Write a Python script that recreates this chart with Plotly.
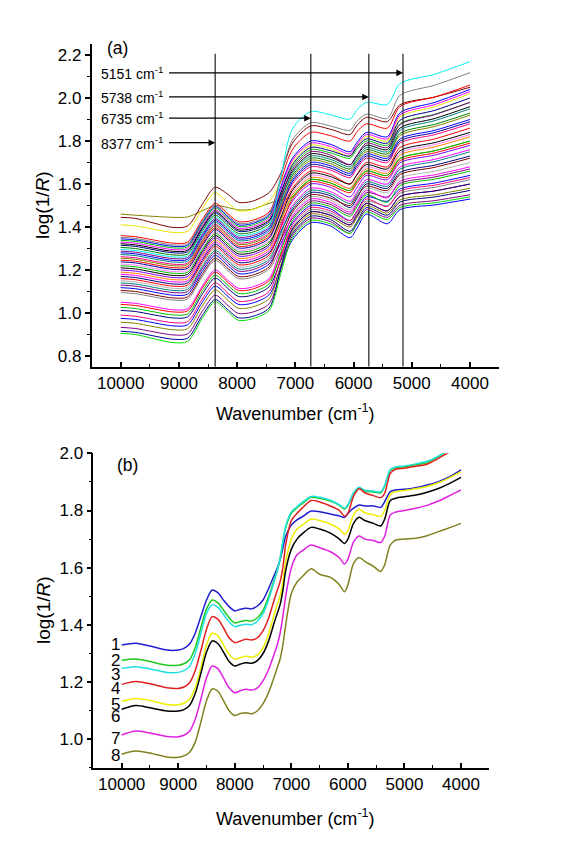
import plotly.graph_objects as go

# ---------------- data: panel (a) ----------------
wn_a = [10000, 9750, 9100, 8850, 8600, 8377, 8150, 7980, 7750, 7450, 7250,
        7050, 6735, 6400, 6060, 5950, 5780, 5420, 5200, 4600, 4000]

a01 = [1.460, 1.455, 1.445, 1.447, 1.475, 1.500, 1.490, 1.480, 1.482, 1.510, 1.525, 1.540, 1.620, 1.605, 1.570, 1.610, 1.660, 1.640, 1.719, 1.755, 1.800]
a02 = [1.445, 1.440, 1.398, 1.405, 1.505, 1.585, 1.550, 1.515, 1.519, 1.560, 1.650, 1.790, 1.870, 1.855, 1.830, 1.870, 1.910, 1.890, 1.969, 2.005, 2.050]
a03 = [1.410, 1.405, 1.375, 1.380, 1.485, 1.560, 1.510, 1.475, 1.480, 1.520, 1.610, 1.700, 1.780, 1.765, 1.730, 1.770, 1.820, 1.800, 1.912, 1.960, 2.020]
a04 = [1.360, 1.355, 1.325, 1.330, 1.435, 1.510, 1.460, 1.425, 1.430, 1.470, 1.615, 1.760, 1.840, 1.825, 1.800, 1.840, 1.880, 1.860, 1.961, 2.005, 2.060]
a05 = [1.352, 1.347, 1.317, 1.322, 1.427, 1.502, 1.452, 1.417, 1.422, 1.462, 1.634, 1.805, 1.885, 1.870, 1.850, 1.890, 1.925, 1.905, 2.013, 2.060, 2.118]
a06 = [1.345, 1.340, 1.310, 1.315, 1.420, 1.495, 1.445, 1.410, 1.415, 1.455, 1.588, 1.720, 1.800, 1.785, 1.750, 1.790, 1.840, 1.820, 1.932, 1.980, 2.040]
a07 = [1.338, 1.333, 1.303, 1.308, 1.413, 1.488, 1.438, 1.403, 1.408, 1.448, 1.564, 1.680, 1.760, 1.745, 1.720, 1.760, 1.800, 1.780, 1.881, 1.925, 1.980]
a08 = [1.330, 1.325, 1.295, 1.300, 1.405, 1.480, 1.430, 1.395, 1.400, 1.440, 1.575, 1.710, 1.790, 1.775, 1.740, 1.780, 1.830, 1.810, 1.922, 1.970, 2.030]
a09 = [1.322, 1.317, 1.287, 1.292, 1.397, 1.472, 1.422, 1.387, 1.392, 1.432, 1.546, 1.660, 1.740, 1.725, 1.690, 1.730, 1.780, 1.760, 1.861, 1.905, 1.960]
a10 = [1.315, 1.310, 1.280, 1.285, 1.390, 1.465, 1.415, 1.380, 1.385, 1.425, 1.558, 1.690, 1.770, 1.755, 1.730, 1.770, 1.810, 1.790, 1.897, 1.943, 2.000]
a11 = [1.305, 1.300, 1.270, 1.275, 1.380, 1.455, 1.405, 1.370, 1.375, 1.415, 1.528, 1.640, 1.720, 1.705, 1.670, 1.710, 1.760, 1.740, 1.836, 1.878, 1.930]
a12 = [1.296, 1.291, 1.261, 1.266, 1.371, 1.446, 1.396, 1.361, 1.366, 1.406, 1.632, 1.857, 1.937, 1.922, 1.902, 1.942, 1.980, 1.970, 2.067, 2.111, 2.169]
a13 = [1.288, 1.283, 1.253, 1.258, 1.363, 1.438, 1.388, 1.353, 1.358, 1.398, 1.534, 1.670, 1.750, 1.735, 1.690, 1.730, 1.790, 1.770, 1.877, 1.923, 1.980]
a14 = [1.280, 1.275, 1.245, 1.250, 1.355, 1.430, 1.380, 1.345, 1.350, 1.390, 1.505, 1.620, 1.700, 1.685, 1.650, 1.690, 1.740, 1.720, 1.810, 1.850, 1.900]
a15 = [1.272, 1.267, 1.237, 1.242, 1.347, 1.422, 1.372, 1.337, 1.342, 1.382, 1.516, 1.650, 1.730, 1.715, 1.680, 1.720, 1.770, 1.750, 1.851, 1.895, 1.950]
a16 = [1.262, 1.257, 1.227, 1.232, 1.337, 1.412, 1.362, 1.327, 1.332, 1.372, 1.486, 1.600, 1.680, 1.665, 1.630, 1.670, 1.720, 1.700, 1.790, 1.830, 1.880]
a17 = [1.255, 1.250, 1.220, 1.225, 1.330, 1.405, 1.355, 1.320, 1.325, 1.365, 1.498, 1.630, 1.710, 1.695, 1.660, 1.700, 1.750, 1.730, 1.826, 1.868, 1.920]
a18 = [1.246, 1.241, 1.211, 1.216, 1.321, 1.396, 1.346, 1.311, 1.316, 1.356, 1.468, 1.580, 1.660, 1.645, 1.600, 1.640, 1.700, 1.680, 1.770, 1.810, 1.860]
a19 = [1.238, 1.233, 1.203, 1.208, 1.313, 1.388, 1.338, 1.303, 1.308, 1.348, 1.479, 1.610, 1.690, 1.675, 1.640, 1.680, 1.730, 1.710, 1.800, 1.840, 1.890]
a20 = [1.228, 1.223, 1.193, 1.198, 1.303, 1.378, 1.328, 1.293, 1.298, 1.338, 1.449, 1.560, 1.640, 1.625, 1.580, 1.620, 1.680, 1.660, 1.745, 1.783, 1.830]
a21 = [1.220, 1.215, 1.185, 1.190, 1.295, 1.370, 1.320, 1.285, 1.290, 1.330, 1.435, 1.540, 1.620, 1.605, 1.570, 1.610, 1.660, 1.640, 1.719, 1.755, 1.800]
a22 = [1.210, 1.205, 1.175, 1.180, 1.285, 1.360, 1.310, 1.275, 1.280, 1.320, 1.445, 1.570, 1.650, 1.635, 1.600, 1.640, 1.690, 1.670, 1.755, 1.793, 1.840]
a23 = [1.200, 1.195, 1.165, 1.170, 1.275, 1.350, 1.300, 1.265, 1.270, 1.310, 1.415, 1.520, 1.600, 1.585, 1.540, 1.580, 1.640, 1.620, 1.699, 1.735, 1.780]
a24 = [1.190, 1.185, 1.155, 1.160, 1.265, 1.340, 1.290, 1.255, 1.260, 1.300, 1.425, 1.550, 1.630, 1.615, 1.580, 1.620, 1.670, 1.650, 1.735, 1.773, 1.820]
a25 = [1.180, 1.175, 1.145, 1.150, 1.255, 1.330, 1.280, 1.245, 1.250, 1.290, 1.395, 1.500, 1.580, 1.565, 1.520, 1.560, 1.620, 1.600, 1.679, 1.715, 1.760]
a26 = [1.170, 1.165, 1.135, 1.140, 1.245, 1.320, 1.270, 1.235, 1.240, 1.280, 1.380, 1.480, 1.560, 1.545, 1.490, 1.530, 1.600, 1.580, 1.654, 1.688, 1.730]
a27 = [1.160, 1.155, 1.125, 1.130, 1.235, 1.310, 1.260, 1.225, 1.230, 1.270, 1.400, 1.530, 1.610, 1.595, 1.560, 1.600, 1.650, 1.630, 1.709, 1.745, 1.790]
a28 = [1.150, 1.145, 1.115, 1.120, 1.225, 1.300, 1.250, 1.215, 1.220, 1.260, 1.360, 1.460, 1.540, 1.525, 1.480, 1.520, 1.580, 1.560, 1.628, 1.660, 1.700]
a29 = [1.140, 1.135, 1.105, 1.110, 1.215, 1.290, 1.240, 1.205, 1.210, 1.250, 1.370, 1.490, 1.570, 1.555, 1.510, 1.550, 1.610, 1.590, 1.669, 1.705, 1.750]
a30 = [1.130, 1.125, 1.095, 1.100, 1.205, 1.280, 1.230, 1.195, 1.200, 1.240, 1.340, 1.440, 1.520, 1.505, 1.460, 1.500, 1.560, 1.540, 1.603, 1.633, 1.670]
a31 = [1.118, 1.113, 1.083, 1.088, 1.193, 1.268, 1.218, 1.183, 1.188, 1.228, 1.324, 1.420, 1.500, 1.485, 1.430, 1.470, 1.540, 1.520, 1.577, 1.605, 1.640]
a32 = [1.105, 1.100, 1.070, 1.075, 1.180, 1.255, 1.205, 1.170, 1.175, 1.215, 1.343, 1.470, 1.550, 1.535, 1.500, 1.540, 1.590, 1.570, 1.644, 1.678, 1.720]
a33 = [1.095, 1.090, 1.060, 1.065, 1.170, 1.245, 1.195, 1.160, 1.165, 1.205, 1.303, 1.400, 1.480, 1.465, 1.420, 1.460, 1.520, 1.500, 1.557, 1.585, 1.620]
a34 = [1.050, 1.045, 1.015, 1.020, 1.125, 1.200, 1.150, 1.115, 1.120, 1.160, 1.305, 1.450, 1.530, 1.515, 1.470, 1.510, 1.570, 1.535, 1.613, 1.643, 1.680]
a35 = [1.040, 1.035, 1.005, 1.010, 1.115, 1.190, 1.140, 1.105, 1.110, 1.150, 1.270, 1.390, 1.470, 1.455, 1.410, 1.450, 1.510, 1.475, 1.542, 1.568, 1.600]
a36 = [1.026, 1.021, 0.991, 0.996, 1.101, 1.176, 1.126, 1.091, 1.096, 1.136, 1.283, 1.430, 1.510, 1.495, 1.450, 1.490, 1.550, 1.515, 1.593, 1.623, 1.660]
a37 = [1.012, 1.007, 0.977, 0.982, 1.087, 1.162, 1.112, 1.077, 1.082, 1.122, 1.246, 1.370, 1.450, 1.435, 1.380, 1.420, 1.490, 1.455, 1.516, 1.540, 1.570]
a38 = [0.990, 0.985, 0.955, 0.960, 1.065, 1.140, 1.090, 1.055, 1.060, 1.100, 1.255, 1.410, 1.490, 1.475, 1.430, 1.470, 1.530, 1.495, 1.567, 1.595, 1.630]
a39 = [0.975, 0.970, 0.940, 0.945, 1.050, 1.125, 1.075, 1.040, 1.045, 1.085, 1.213, 1.340, 1.420, 1.405, 1.350, 1.390, 1.460, 1.415, 1.481, 1.503, 1.530]
a40 = [0.957, 0.952, 0.922, 0.927, 1.032, 1.107, 1.057, 1.022, 1.027, 1.067, 1.224, 1.380, 1.460, 1.445, 1.400, 1.440, 1.500, 1.465, 1.526, 1.550, 1.580]
a41 = [0.933, 0.928, 0.898, 0.903, 1.008, 1.083, 1.033, 0.998, 1.003, 1.043, 1.202, 1.360, 1.440, 1.425, 1.370, 1.410, 1.480, 1.445, 1.501, 1.523, 1.550]
a42 = [0.915, 0.910, 0.878, 0.883, 0.988, 1.063, 1.013, 0.978, 0.983, 1.023, 1.208, 1.390, 1.470, 1.455, 1.410, 1.450, 1.510, 1.475, 1.542, 1.568, 1.600]
a43 = [0.905, 0.900, 0.862, 0.868, 0.975, 1.053, 1.003, 0.966, 0.972, 1.012, 1.183, 1.350, 1.430, 1.415, 1.370, 1.410, 1.470, 1.435, 1.491, 1.513, 1.540]

spectra_a = [a01, a02, a03, a04, a05, a06, a07, a08, a09, a10, a11, a12, a13, a14,
             a15, a16, a17, a18, a19, a20, a21, a22, a23, a24, a25, a26, a27, a28,
             a29, a30, a31, a32, a33, a34, a35, a36, a37, a38, a39, a40, a41, a42, a43]

marker_wn = [8377, 6735, 5738, 5151]
marker_text = ["8377 cm<sup>-1</sup>", "6735 cm<sup>-1</sup>",
               "5738 cm<sup>-1</sup>", "5151 cm<sup>-1</sup>"]

# ---------------- data: panel (b) ----------------
wn_b = [10000, 9750, 9500, 9200, 9000, 8900, 8800, 8700, 8600, 8500, 8400, 8300,
        8200, 8100, 8000, 7900, 7800, 7700, 7600, 7500, 7400, 7300, 7250, 7200,
        7150, 7100, 7000, 6900, 6800, 6650, 6500, 6300, 6150, 6060, 6000, 5900,
        5800, 5700, 5550, 5420, 5350, 5250, 5150, 5000, 4800, 4600, 4400, 4200, 4000]

b1 = [1.330, 1.336, 1.326, 1.312, 1.312, 1.318, 1.333, 1.371, 1.429, 1.487, 1.522, 1.513, 1.487, 1.464, 1.449, 1.455, 1.458, 1.456, 1.466, 1.487, 1.528, 1.575, 1.598, 1.627, 1.668, 1.709, 1.749, 1.767, 1.779, 1.798, 1.796, 1.787, 1.781, 1.776, 1.790, 1.808, 1.819, 1.816, 1.816, 1.811, 1.831, 1.866, 1.872, 1.874, 1.880, 1.889, 1.901, 1.918, 1.942]
b2 = [1.276, 1.281, 1.272, 1.259, 1.259, 1.264, 1.278, 1.320, 1.390, 1.455, 1.487, 1.478, 1.452, 1.425, 1.407, 1.412, 1.415, 1.414, 1.425, 1.450, 1.500, 1.560, 1.590, 1.630, 1.690, 1.740, 1.790, 1.810, 1.825, 1.846, 1.843, 1.832, 1.818, 1.805, 1.818, 1.860, 1.878, 1.868, 1.865, 1.862, 1.885, 1.940, 1.950, 1.953, 1.960, 1.968, 1.988, 2.012, 2.035]
b3 = [1.248, 1.254, 1.246, 1.234, 1.234, 1.240, 1.255, 1.300, 1.370, 1.440, 1.470, 1.462, 1.437, 1.410, 1.394, 1.399, 1.402, 1.401, 1.413, 1.440, 1.490, 1.555, 1.590, 1.630, 1.690, 1.745, 1.795, 1.813, 1.830, 1.849, 1.846, 1.835, 1.820, 1.808, 1.820, 1.862, 1.881, 1.871, 1.868, 1.865, 1.888, 1.943, 1.953, 1.956, 1.963, 1.972, 1.990, 2.015, 2.040]
b4 = [1.192, 1.202, 1.194, 1.180, 1.178, 1.183, 1.198, 1.240, 1.310, 1.385, 1.429, 1.420, 1.390, 1.355, 1.338, 1.344, 1.350, 1.347, 1.355, 1.380, 1.425, 1.490, 1.520, 1.550, 1.600, 1.680, 1.765, 1.790, 1.810, 1.835, 1.830, 1.815, 1.800, 1.780, 1.790, 1.850, 1.876, 1.862, 1.852, 1.845, 1.860, 1.930, 1.945, 1.948, 1.955, 1.962, 1.982, 2.005, 2.028]
b5 = [1.132, 1.143, 1.136, 1.122, 1.121, 1.126, 1.140, 1.180, 1.250, 1.330, 1.371, 1.362, 1.330, 1.297, 1.280, 1.286, 1.290, 1.287, 1.295, 1.320, 1.370, 1.440, 1.470, 1.500, 1.550, 1.620, 1.700, 1.735, 1.750, 1.770, 1.765, 1.752, 1.735, 1.717, 1.730, 1.785, 1.804, 1.792, 1.785, 1.779, 1.800, 1.857, 1.866, 1.870, 1.876, 1.884, 1.897, 1.915, 1.936]
b6 = [1.105, 1.118, 1.110, 1.099, 1.099, 1.104, 1.118, 1.160, 1.230, 1.305, 1.344, 1.335, 1.305, 1.272, 1.256, 1.263, 1.268, 1.266, 1.275, 1.300, 1.345, 1.410, 1.440, 1.470, 1.520, 1.590, 1.665, 1.700, 1.720, 1.741, 1.735, 1.720, 1.700, 1.685, 1.700, 1.755, 1.776, 1.765, 1.755, 1.746, 1.770, 1.835, 1.843, 1.848, 1.854, 1.864, 1.877, 1.895, 1.916]
b7 = [1.015, 1.029, 1.022, 1.010, 1.009, 1.014, 1.028, 1.070, 1.140, 1.215, 1.256, 1.247, 1.215, 1.180, 1.163, 1.170, 1.175, 1.172, 1.180, 1.205, 1.245, 1.300, 1.330, 1.370, 1.430, 1.500, 1.600, 1.645, 1.660, 1.679, 1.670, 1.655, 1.635, 1.613, 1.630, 1.690, 1.711, 1.700, 1.695, 1.688, 1.710, 1.785, 1.795, 1.800, 1.808, 1.818, 1.833, 1.852, 1.872]
b8 = [0.948, 0.959, 0.952, 0.938, 0.937, 0.942, 0.955, 0.990, 1.060, 1.135, 1.176, 1.168, 1.135, 1.100, 1.083, 1.090, 1.093, 1.089, 1.100, 1.125, 1.165, 1.220, 1.250, 1.280, 1.330, 1.400, 1.510, 1.550, 1.570, 1.596, 1.577, 1.565, 1.540, 1.516, 1.540, 1.615, 1.636, 1.622, 1.605, 1.587, 1.610, 1.680, 1.697, 1.700, 1.703, 1.712, 1.726, 1.740, 1.755]

spectra_b = [b1, b2, b3, b4, b5, b6, b7, b8]
labels_b = ["1", "2", "3", "4", "5", "6", "7", "8"]

# ---------------- styles / layout ----------------
colors_a = ["#808000", "#800000", "#E6E600", "#FF0000", "#808080", "#0000FF", "#00C000",
            "#FF00FF", "#000000", "#000080", "#008000", "#00F0F0", "#800080", "#0000FF",
            "#008080", "#FF0080", "#808000", "#FF0000", "#0000A0", "#FF80FF", "#00C000",
            "#000000", "#8000FF", "#FF8000", "#FF00FF", "#000080", "#FF0000", "#B0B0B0",
            "#008080", "#800080", "#0000FF", "#800000", "#808080", "#FF00FF", "#FF0000",
            "#00C000", "#000080", "#FF0080", "#0000FF", "#808000", "#800080", "#0000A0",
            "#00E000"]
colors_b = ["#1F1FD0", "#1FC81F", "#1FE0E0", "#E01F1F", "#EEEE00", "#000000", "#E01FE0", "#808020"]
label_y_b = [1.333, 1.277, 1.225, 1.176, 1.120, 1.078, 1.004, 0.945]

# page body has an 8px margin; the figure is laid out in page pixels
OFF = 8
FW, FH = 574 - OFF, 846 - OFF
FONT = "Liberation Sans, Arial, sans-serif"

def fx(px):
    return (px - OFF) / FW

def fy(py):
    return 1 - (py - OFF) / FH

fig = go.Figure()
for vals, col in zip(spectra_a, colors_a):
    fig.add_trace(go.Scatter(x=wn_a, y=vals, mode="lines", xaxis="x", yaxis="y",
                             line=dict(color=col, width=1, shape="spline", smoothing=0.8),
                             showlegend=False, hoverinfo="skip"))
for vals, col in zip(spectra_b, colors_b):
    fig.add_trace(go.Scatter(x=wn_b, y=vals, mode="lines", xaxis="x2", yaxis="y2",
                             line=dict(color=col, width=1.5, shape="spline", smoothing=0.8),
                             showlegend=False, hoverinfo="skip"))

def xaxis_style(domain, anchor):
    return dict(domain=domain, anchor=anchor, range=[10500, 3500], showline=True,
                linecolor="black", linewidth=1.5, showgrid=False, zeroline=False,
                automargin=False,
                tickmode="array", tickvals=[10000, 9000, 8000, 7000, 6000, 5000, 4000],
                ticktext=["10000", "9000", "8000", "7000", "6000", "5000", "4000"],
                ticks="inside", ticklen=5, tickwidth=1.5, tickcolor="black",
                tickfont=dict(family=FONT, size=17, color="black"),
                minor=dict(ticks="inside", ticklen=3, tickwidth=1.2, tickcolor="black",
                           tickmode="array",
                           tickvals=[10500, 9500, 8500, 7500, 6500, 5500, 4500, 3500]))

def yaxis_style(domain, anchor, rng, tv):
    return dict(domain=domain, anchor=anchor, range=rng, showline=True,
                linecolor="black", linewidth=1.5, showgrid=False, zeroline=False,
                automargin=False,
                tickmode="array", tickvals=tv, ticktext=["%.1f" % v for v in tv],
                ticks="outside", ticklen=5, tickwidth=1.5, tickcolor="black",
                tickfont=dict(family=FONT, size=17, color="black"),
                minor=dict(ticks="outside", ticklen=3, tickwidth=1.2, tickcolor="black",
                           dtick=0.1, tick0=0))

fig.update_layout(
    width=FW, height=FH, margin=dict(l=0, r=0, t=0, b=0), autosize=False,
    paper_bgcolor="white", plot_bgcolor="white",
    xaxis=xaxis_style([fx(91.6), fx(499.1)], "y"),
    yaxis=yaxis_style([fy(366.75), fy(44.25)], "x", [0.75, 2.25],
                      [0.8, 1.0, 1.2, 1.4, 1.6, 1.8, 2.0, 2.2]),
    xaxis2=xaxis_style([fx(93.4), fx(489.3)], "y2"),
    yaxis2=yaxis_style([fy(767.9), fy(453.3)], "x2", [0.9, 2.0],
                       [1.0, 1.2, 1.4, 1.6, 1.8, 2.0]),
)

shapes = []
for wn in marker_wn:
    shapes.append(dict(type="line", xref="x", yref="y", x0=wn, x1=wn, y0=0.75, y1=2.206,
                       line=dict(color="#303030", width=1.3)))
fig.update_layout(shapes=shapes)

ann = []
arrow_y = [1.792, 1.906, 2.005, 2.117]
for wn, txt, yv in zip(marker_wn, marker_text, arrow_y):
    ann.append(dict(x=wn, y=yv, ax=9256, ay=yv, xref="x", yref="y", axref="x", ayref="y",
                    text=txt, showarrow=True, arrowhead=2, arrowsize=1.1, arrowwidth=1.2,
                    arrowcolor="black", xanchor="right", yanchor="middle",
                    startstandoff=5, borderpad=0,
                    font=dict(family=FONT, size=14, color="black")))

for lab, yv in zip(labels_b, label_y_b):
    ann.append(dict(x=10110, y=yv, xref="x2", yref="y2", text=lab, showarrow=False,
                    xanchor="center", yanchor="middle",
                    font=dict(family=FONT, size=17, color="black")))

ann.append(dict(x=fx(117.5), y=fy(47.5), xref="paper", yref="paper", text="(a)",
                showarrow=False, xanchor="center", yanchor="middle",
                font=dict(family=FONT, size=17.5, color="black")))
ann.append(dict(x=fx(127.5), y=fy(465), xref="paper", yref="paper", text="(b)",
                showarrow=False, xanchor="center", yanchor="middle",
                font=dict(family=FONT, size=17.5, color="black")))

for yc in [412, 817]:
    ann.append(dict(x=fx(295), y=fy(yc), xref="paper", yref="paper",
                    text="Wavenumber (cm<sup>-1</sup>)", showarrow=False,
                    xanchor="center", yanchor="middle",
                    font=dict(family=FONT, size=18, color="black")))
for yc in [205, 610]:
    ann.append(dict(x=fx(43), y=fy(yc), xref="paper", yref="paper",
                    text="log(1/<i>R</i>)", showarrow=False, textangle=-90,
                    xanchor="center", yanchor="middle",
                    font=dict(family=FONT, size=19, color="black")))

fig.update_layout(annotations=ann)
fig.write_html("out.html")
